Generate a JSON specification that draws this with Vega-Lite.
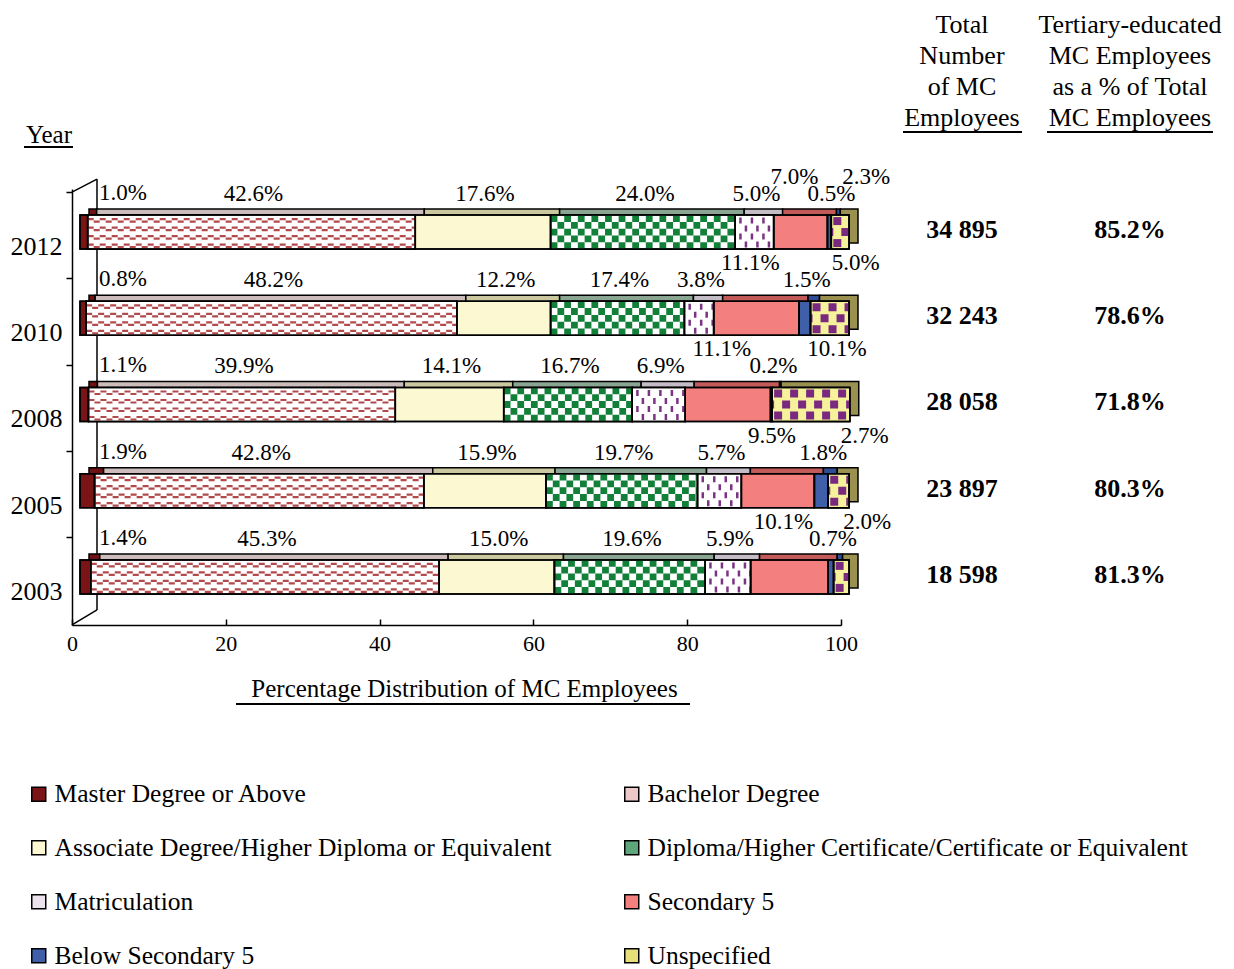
{
"$schema": "https://vega.github.io/schema/vega-lite/v6.json",
"autosize": {"type": "none"},
"width": 769,
"height": 436,
"padding": {"left": 72, "top": 189, "right": 393, "bottom": 344},
"background": "white",
"config": {"font": "Liberation Serif", "view": {"stroke": null}, "text": {"font": "Liberation Serif", "color": "black"}},
"datasets": {
"edu": [
{"year":"2012","k":1,"cat":"Master Degree or Above","pct":1.0},
{"year":"2012","k":2,"cat":"Bachelor Degree","pct":42.6},
{"year":"2012","k":3,"cat":"Associate Degree/Higher Diploma or Equivalent","pct":17.6},
{"year":"2012","k":4,"cat":"Diploma/Higher Certificate/Certificate or Equivalent","pct":24.0},
{"year":"2012","k":5,"cat":"Matriculation","pct":5.0},
{"year":"2012","k":6,"cat":"Secondary 5","pct":7.0},
{"year":"2012","k":7,"cat":"Below Secondary 5","pct":0.5},
{"year":"2012","k":8,"cat":"Unspecified","pct":2.3},
{"year":"2010","k":1,"cat":"Master Degree or Above","pct":0.8},
{"year":"2010","k":2,"cat":"Bachelor Degree","pct":48.2},
{"year":"2010","k":3,"cat":"Associate Degree/Higher Diploma or Equivalent","pct":12.2},
{"year":"2010","k":4,"cat":"Diploma/Higher Certificate/Certificate or Equivalent","pct":17.4},
{"year":"2010","k":5,"cat":"Matriculation","pct":3.8},
{"year":"2010","k":6,"cat":"Secondary 5","pct":11.1},
{"year":"2010","k":7,"cat":"Below Secondary 5","pct":1.5},
{"year":"2010","k":8,"cat":"Unspecified","pct":5.0},
{"year":"2008","k":1,"cat":"Master Degree or Above","pct":1.1},
{"year":"2008","k":2,"cat":"Bachelor Degree","pct":39.9},
{"year":"2008","k":3,"cat":"Associate Degree/Higher Diploma or Equivalent","pct":14.1},
{"year":"2008","k":4,"cat":"Diploma/Higher Certificate/Certificate or Equivalent","pct":16.7},
{"year":"2008","k":5,"cat":"Matriculation","pct":6.9},
{"year":"2008","k":6,"cat":"Secondary 5","pct":11.1},
{"year":"2008","k":7,"cat":"Below Secondary 5","pct":0.2},
{"year":"2008","k":8,"cat":"Unspecified","pct":10.1},
{"year":"2005","k":1,"cat":"Master Degree or Above","pct":1.9},
{"year":"2005","k":2,"cat":"Bachelor Degree","pct":42.8},
{"year":"2005","k":3,"cat":"Associate Degree/Higher Diploma or Equivalent","pct":15.9},
{"year":"2005","k":4,"cat":"Diploma/Higher Certificate/Certificate or Equivalent","pct":19.7},
{"year":"2005","k":5,"cat":"Matriculation","pct":5.7},
{"year":"2005","k":6,"cat":"Secondary 5","pct":9.5},
{"year":"2005","k":7,"cat":"Below Secondary 5","pct":1.8},
{"year":"2005","k":8,"cat":"Unspecified","pct":2.7},
{"year":"2003","k":1,"cat":"Master Degree or Above","pct":1.4},
{"year":"2003","k":2,"cat":"Bachelor Degree","pct":45.3},
{"year":"2003","k":3,"cat":"Associate Degree/Higher Diploma or Equivalent","pct":15.0},
{"year":"2003","k":4,"cat":"Diploma/Higher Certificate/Certificate or Equivalent","pct":19.6},
{"year":"2003","k":5,"cat":"Matriculation","pct":5.9},
{"year":"2003","k":6,"cat":"Secondary 5","pct":10.1},
{"year":"2003","k":7,"cat":"Below Secondary 5","pct":0.7},
{"year":"2003","k":8,"cat":"Unspecified","pct":2.0}
],
"summary": [
{"year":"2012","total":34895,"tert":85.2},
{"year":"2010","total":32243,"tert":78.6},
{"year":"2008","total":28058,"tert":71.8},
{"year":"2005","total":23897,"tert":80.3},
{"year":"2003","total":18598,"tert":81.3}
]
},
"layer": [
{
"data": {"values": [{}]},
"layer": [
{"mark": {"type": "text", "font": "Liberation Serif", "fontSize": 26, "align": "center", "baseline": "middle", "lineHeight": 31, "dy": -207, "color": "black", "text": ["Total", "Number", "of MC", "Employees"]},
 "encoding": {
  "x": {"datum": 115.73, "type": "quantitative", "scale": {"domain": [0, 100], "nice": false, "zero": false}},
  "y": {"datum": "2012", "type": "nominal", "scale": {"domain": ["2012","2010","2008","2005","2003"], "paddingInner": 0.6056, "paddingOuter": 0.3318, "align": 0.456}}
 }},
{"mark": {"type": "text", "font": "Liberation Serif", "fontSize": 26, "align": "center", "baseline": "middle", "lineHeight": 31, "dy": -207, "color": "black", "text": ["Tertiary-educated", "MC Employees", "as a % of Total", "MC Employees"]},
 "encoding": {
  "x": {"datum": 137.58, "type": "quantitative", "scale": {"domain": [0, 100], "nice": false, "zero": false}},
  "y": {"datum": "2012", "type": "nominal", "scale": {"domain": ["2012","2010","2008","2005","2003"], "paddingInner": 0.6056, "paddingOuter": 0.3318, "align": 0.456}}
 }},
{"mark": {"type": "text", "font": "Liberation Serif", "fontSize": 25, "align": "center", "baseline": "middle", "dy": -97, "color": "black", "text": "Year"},
 "encoding": {
  "x": {"datum": -2.99, "type": "quantitative", "scale": {"domain": [0, 100], "nice": false, "zero": false}},
  "y": {"datum": "2012", "type": "nominal", "scale": {"domain": ["2012","2010","2008","2005","2003"], "paddingInner": 0.6056, "paddingOuter": 0.3318, "align": 0.456}}
 }},
{"mark": {"type": "rule", "color": "black", "strokeWidth": 2, "yOffset": -85},
 "encoding": {
  "x": {"datum": -6.24, "type": "quantitative", "scale": {"domain": [0, 100], "nice": false, "zero": false}},
  "x2": {"datum": 0.13},
  "y": {"datum": "2012", "type": "nominal", "scale": {"domain": ["2012","2010","2008","2005","2003"], "paddingInner": 0.6056, "paddingOuter": 0.3318, "align": 0.456}}
 }},
{"mark": {"type": "rule", "color": "black", "strokeWidth": 2, "yOffset": -100},
 "encoding": {
  "x": {"datum": 108.06, "type": "quantitative", "scale": {"domain": [0, 100], "nice": false, "zero": false}},
  "x2": {"datum": 123.54},
  "y": {"datum": "2012", "type": "nominal", "scale": {"domain": ["2012","2010","2008","2005","2003"], "paddingInner": 0.6056, "paddingOuter": 0.3318, "align": 0.456}}
 }},
{"mark": {"type": "rule", "color": "black", "strokeWidth": 2, "yOffset": -100},
 "encoding": {
  "x": {"datum": 126.79, "type": "quantitative", "scale": {"domain": [0, 100], "nice": false, "zero": false}},
  "x2": {"datum": 148.37},
  "y": {"datum": "2012", "type": "nominal", "scale": {"domain": ["2012","2010","2008","2005","2003"], "paddingInner": 0.6056, "paddingOuter": 0.3318, "align": 0.456}}
 }},
{"mark": {"type": "rule", "color": "black", "strokeWidth": 2, "yOffset": 127},
 "encoding": {
  "x": {"datum": 21.33, "type": "quantitative", "scale": {"domain": [0, 100], "nice": false, "zero": false}},
  "x2": {"datum": 80.36},
  "y": {"datum": "2003", "type": "nominal", "scale": {"domain": ["2012","2010","2008","2005","2003"], "paddingInner": 0.6056, "paddingOuter": 0.3318, "align": 0.456}}
 }},
{"mark": {"type": "rule", "color": "black", "strokeWidth": 1.5, "yOffset": -53, "y2Offset": 33},
 "encoding": {
  "x": {"datum": 3.25, "type": "quantitative", "scale": {"domain": [0, 100], "nice": false, "zero": false}},
  "y": {"datum": "2012", "type": "nominal", "scale": {"domain": ["2012","2010","2008","2005","2003"], "paddingInner": 0.6056, "paddingOuter": 0.3318, "align": 0.456}},
  "y2": {"datum": "2003"}
 }},
{"mark": {"type": "rule", "color": "black", "strokeWidth": 1.5, "yOffset": -40, "y2Offset": -53},
 "encoding": {
  "x": {"datum": 0, "type": "quantitative", "scale": {"domain": [0, 100], "nice": false, "zero": false}},
  "x2": {"datum": 3.25},
  "y": {"datum": "2012", "type": "nominal", "scale": {"domain": ["2012","2010","2008","2005","2003"], "paddingInner": 0.6056, "paddingOuter": 0.3318, "align": 0.456}},
  "y2": {"datum": "2012"}
 }},
{"mark": {"type": "rule", "color": "black", "strokeWidth": 1.5, "yOffset": 48, "y2Offset": 33},
 "encoding": {
  "x": {"datum": 0, "type": "quantitative", "scale": {"domain": [0, 100], "nice": false, "zero": false}},
  "x2": {"datum": 3.25},
  "y": {"datum": "2003", "type": "nominal", "scale": {"domain": ["2012","2010","2008","2005","2003"], "paddingInner": 0.6056, "paddingOuter": 0.3318, "align": 0.456}},
  "y2": {"datum": "2003"}
 }}
]
},
{
"data": {"name": "edu"},
"transform": [
{"stack": "pct", "groupby": ["year"], "sort": [{"field": "k", "order": "ascending"}], "as": ["x0", "x1"], "offset": "zero"},
{"calculate": "(datum.x0+datum.x1)/2", "as": "xm"},
{"calculate": "format(datum.pct,'.1f')+'%'", "as": "lab"}
],
"layer": [
{"mark": {"type": "bar", "stroke": "black", "strokeWidth": 1.5, "xOffset": 17, "x2Offset": 17, "yOffset": -6, "y2Offset": -6},
 "encoding": {
  "x": {"field": "x0", "type": "quantitative", "scale": {"domain": [0, 100], "nice": false, "zero": false}},
  "x2": {"field": "x1"},
  "y": {"field": "year", "type": "nominal", "scale": {"domain": ["2012","2010","2008","2005","2003"], "paddingInner": 0.6056, "paddingOuter": 0.3318, "align": 0.456}},
  "fill": {"field": "k", "type": "nominal", "legend": null, "scale": {"domain": [1,2,3,4,5,6,7,8], "range": ["#6e1214","#cdbcbc","#cbc79f","#8aa592","#c4bcc6","#c25a5a","#2f4c94","#9a9150"]}}
 }},
{"mark": {"type": "bar", "stroke": "black", "strokeWidth": 1.5, "xOffset": 8, "x2Offset": 8},
 "encoding": {
  "x": {"field": "x0", "type": "quantitative", "scale": {"domain": [0, 100], "nice": false, "zero": false},
   "axis": {"values": [0,20,40,60,80,100], "title": "Percentage Distribution of MC Employees", "titleFont": "Liberation Serif", "titleFontSize": 25, "titleFontWeight": "normal", "titleColor": "black", "titlePadding": 22, "titleX": 392, "labelFont": "Liberation Serif", "labelFontSize": 22, "labelColor": "black", "labelFlush": false, "grid": false, "domainColor": "black", "domainWidth": 1.5, "tickColor": "black", "tickWidth": 1.5, "tickSize": -6, "labelPadding": 14}},
  "x2": {"field": "x1"},
  "y": {"field": "year", "type": "nominal", "scale": {"domain": ["2012","2010","2008","2005","2003"], "paddingInner": 0.6056, "paddingOuter": 0.3318, "align": 0.456},
   "axis": {"title": null, "labelFont": "Liberation Serif", "labelFontSize": 26, "labelColor": "black", "domainColor": "black", "domainWidth": 1.5, "tickColor": "black", "tickWidth": 1.5, "tickSize": 6, "labelPadding": 4, "bandPosition": -0.66, "labelOffset": 15}},
  "color": {"field": "cat", "type": "nominal",
   "scale": {"domain": ["Master Degree or Above","Associate Degree/Higher Diploma or Equivalent","Matriculation","Below Secondary 5","Bachelor Degree","Diploma/Higher Certificate/Certificate or Equivalent","Secondary 5","Unspecified"], "range": ["#7b1416","#fcf8d2","#ece2ee","#3f5fa8","#ecc8c8","#5ea77a","#f47f7f","#e6df7a"]},
   "legend": {"title": null, "orient": "none", "legendX": -46, "legendY": 592, "columns": 2, "columnPadding": 67, "rowPadding": 27, "padding": 0, "symbolType": "square", "symbolSize": 196, "symbolStrokeColor": "black", "symbolStrokeWidth": 1.5, "labelFont": "Liberation Serif", "labelFontSize": 25.5, "labelColor": "black", "labelLimit": 1000, "labelOffset": 3}}
 }},
{"transform": [{"filter": "datum.k==2 || datum.k==4 || datum.k==5"}],
 "mark": {"type": "bar", "fill": "white", "stroke": "black", "strokeWidth": 1.5, "xOffset": 8, "x2Offset": 8},
 "encoding": {
  "x": {"field": "x0", "type": "quantitative", "scale": {"domain": [0, 100], "nice": false, "zero": false}},
  "x2": {"field": "x1"},
  "y": {"field": "year", "type": "nominal", "scale": {"domain": ["2012","2010","2008","2005","2003"], "paddingInner": 0.6056, "paddingOuter": 0.3318, "align": 0.456}}
 }},
{"transform": [{"filter": "datum.k==8"}],
 "mark": {"type": "bar", "fill": "#f6f29c", "stroke": "black", "strokeWidth": 1.5, "xOffset": 8, "x2Offset": 8},
 "encoding": {
  "x": {"field": "x0", "type": "quantitative", "scale": {"domain": [0, 100], "nice": false, "zero": false}},
  "x2": {"field": "x1"},
  "y": {"field": "year", "type": "nominal", "scale": {"domain": ["2012","2010","2008","2005","2003"], "paddingInner": 0.6056, "paddingOuter": 0.3318, "align": 0.456}}
 }},
{"transform": [{"filter": "datum.k==2"}],
 "encoding": {
  "x": {"field": "x0", "type": "quantitative", "scale": {"domain": [0, 100], "nice": false, "zero": false}},
  "x2": {"field": "x1"},
  "y": {"field": "year", "type": "nominal", "scale": {"domain": ["2012","2010","2008","2005","2003"], "paddingInner": 0.6056, "paddingOuter": 0.3318, "align": 0.456}}
 },
 "layer": [
  {"mark": {"type": "rule", "color": "#b24a4c", "strokeWidth": 2.2, "strokeDash": [6, 6], "strokeDashOffset": 0, "yOffset": -13, "xOffset": 8, "x2Offset": 8}},
  {"mark": {"type": "rule", "color": "#b24a4c", "strokeWidth": 2.2, "strokeDash": [6, 6], "strokeDashOffset": 6, "yOffset": -10.5, "xOffset": 8, "x2Offset": 8}},
  {"mark": {"type": "rule", "color": "#b24a4c", "strokeWidth": 2.2, "strokeDash": [6, 6], "strokeDashOffset": 0, "yOffset": -4.5, "xOffset": 8, "x2Offset": 8}},
  {"mark": {"type": "rule", "color": "#b24a4c", "strokeWidth": 2.2, "strokeDash": [6, 6], "strokeDashOffset": 6, "yOffset": -2, "xOffset": 8, "x2Offset": 8}},
  {"mark": {"type": "rule", "color": "#b24a4c", "strokeWidth": 2.2, "strokeDash": [6, 6], "strokeDashOffset": 0, "yOffset": 4, "xOffset": 8, "x2Offset": 8}},
  {"mark": {"type": "rule", "color": "#b24a4c", "strokeWidth": 2.2, "strokeDash": [6, 6], "strokeDashOffset": 6, "yOffset": 6.5, "xOffset": 8, "x2Offset": 8}},
  {"mark": {"type": "rule", "color": "#b24a4c", "strokeWidth": 2.2, "strokeDash": [6, 6], "strokeDashOffset": 0, "yOffset": 12.5, "xOffset": 8, "x2Offset": 8}},
  {"mark": {"type": "rule", "color": "#b24a4c", "strokeWidth": 2.2, "strokeDash": [6, 6], "strokeDashOffset": 6, "yOffset": 15, "xOffset": 8, "x2Offset": 8}}
 ]},
{"transform": [{"filter": "datum.k==4"}],
 "encoding": {
  "x": {"field": "x0", "type": "quantitative", "scale": {"domain": [0, 100], "nice": false, "zero": false}},
  "x2": {"field": "x1"},
  "y": {"field": "year", "type": "nominal", "scale": {"domain": ["2012","2010","2008","2005","2003"], "paddingInner": 0.6056, "paddingOuter": 0.3318, "align": 0.456}}
 },
 "layer": [
  {"mark": {"type": "rule", "color": "#13803a", "strokeWidth": 6.8, "strokeDash": [6.8, 6.8], "strokeDashOffset": 0, "yOffset": -13.6, "xOffset": 8, "x2Offset": 8}},
  {"mark": {"type": "rule", "color": "#13803a", "strokeWidth": 6.8, "strokeDash": [6.8, 6.8], "strokeDashOffset": 6.8, "yOffset": -6.8, "xOffset": 8, "x2Offset": 8}},
  {"mark": {"type": "rule", "color": "#13803a", "strokeWidth": 6.8, "strokeDash": [6.8, 6.8], "strokeDashOffset": 0, "yOffset": 0, "xOffset": 8, "x2Offset": 8}},
  {"mark": {"type": "rule", "color": "#13803a", "strokeWidth": 6.8, "strokeDash": [6.8, 6.8], "strokeDashOffset": 6.8, "yOffset": 6.8, "xOffset": 8, "x2Offset": 8}},
  {"mark": {"type": "rule", "color": "#13803a", "strokeWidth": 6.8, "strokeDash": [6.8, 6.8], "strokeDashOffset": 0, "yOffset": 13.6, "xOffset": 8, "x2Offset": 8}}
 ]},
{"transform": [{"filter": "datum.k==5"}],
 "encoding": {
  "x": {"field": "x0", "type": "quantitative", "scale": {"domain": [0, 100], "nice": false, "zero": false}},
  "x2": {"field": "x1"},
  "y": {"field": "year", "type": "nominal", "scale": {"domain": ["2012","2010","2008","2005","2003"], "paddingInner": 0.6056, "paddingOuter": 0.3318, "align": 0.456}}
 },
 "layer": [
  {"mark": {"type": "rule", "color": "#7b3483", "strokeWidth": 6, "strokeDash": [2.5, 9], "strokeDashOffset": -4, "yOffset": -11.5, "xOffset": 8, "x2Offset": 8}},
  {"mark": {"type": "rule", "color": "#7b3483", "strokeWidth": 6, "strokeDash": [2.5, 9], "strokeDashOffset": -9.5, "yOffset": -3.5, "xOffset": 8, "x2Offset": 8}},
  {"mark": {"type": "rule", "color": "#7b3483", "strokeWidth": 6, "strokeDash": [2.5, 9], "strokeDashOffset": -4, "yOffset": 4.5, "xOffset": 8, "x2Offset": 8}},
  {"mark": {"type": "rule", "color": "#7b3483", "strokeWidth": 6, "strokeDash": [2.5, 9], "strokeDashOffset": -9.5, "yOffset": 12.5, "xOffset": 8, "x2Offset": 8}}
 ]},
{"transform": [{"filter": "datum.k==8"}],
 "encoding": {
  "x": {"field": "x0", "type": "quantitative", "scale": {"domain": [0, 100], "nice": false, "zero": false}},
  "x2": {"field": "x1"},
  "y": {"field": "year", "type": "nominal", "scale": {"domain": ["2012","2010","2008","2005","2003"], "paddingInner": 0.6056, "paddingOuter": 0.3318, "align": 0.456}}
 },
 "layer": [
  {"mark": {"type": "rule", "color": "#7a2a7e", "strokeWidth": 8, "strokeDash": [8, 8], "strokeDashOffset": -2, "yOffset": -11, "xOffset": 8, "x2Offset": 8}},
  {"mark": {"type": "rule", "color": "#7a2a7e", "strokeWidth": 8, "strokeDash": [8, 8], "strokeDashOffset": 6, "yOffset": 0, "xOffset": 8, "x2Offset": 8}},
  {"mark": {"type": "rule", "color": "#7a2a7e", "strokeWidth": 8, "strokeDash": [8, 8], "strokeDashOffset": -2, "yOffset": 11, "xOffset": 8, "x2Offset": 8}}
 ]},
{"mark": {"type": "bar", "filled": false, "stroke": "black", "strokeWidth": 1.5, "xOffset": 8, "x2Offset": 8},
 "encoding": {
  "x": {"field": "x0", "type": "quantitative", "scale": {"domain": [0, 100], "nice": false, "zero": false}},
  "x2": {"field": "x1"},
  "y": {"field": "year", "type": "nominal", "scale": {"domain": ["2012","2010","2008","2005","2003"], "paddingInner": 0.6056, "paddingOuter": 0.3318, "align": 0.456}}
 }},
{"transform": [{"filter": "datum.k==1"}],
 "mark": {"type": "text", "font": "Liberation Serif", "fontSize": 23, "align": "left", "baseline": "middle", "dx": 27, "dy": -39, "color": "black"},
 "encoding": {
  "x": {"field": "x0", "type": "quantitative", "scale": {"domain": [0, 100], "nice": false, "zero": false}},
  "y": {"field": "year", "type": "nominal", "scale": {"domain": ["2012","2010","2008","2005","2003"], "paddingInner": 0.6056, "paddingOuter": 0.3318, "align": 0.456}},
  "text": {"field": "lab"}
 }},
{"transform": [{"filter": "datum.k>=2 && datum.k<=5 || datum.k==7"}],
 "mark": {"type": "text", "font": "Liberation Serif", "fontSize": 23, "align": "center", "baseline": "middle", "dx": 10, "dy": -38, "color": "black"},
 "encoding": {
  "x": {"field": "xm", "type": "quantitative", "scale": {"domain": [0, 100], "nice": false, "zero": false}},
  "y": {"field": "year", "type": "nominal", "scale": {"domain": ["2012","2010","2008","2005","2003"], "paddingInner": 0.6056, "paddingOuter": 0.3318, "align": 0.456}},
  "text": {"field": "lab"}
 }},
{"transform": [{"filter": "datum.k==6"}],
 "mark": {"type": "text", "font": "Liberation Serif", "fontSize": 23, "align": "center", "baseline": "middle", "dx": 2, "dy": -55, "color": "black"},
 "encoding": {
  "x": {"field": "xm", "type": "quantitative", "scale": {"domain": [0, 100], "nice": false, "zero": false}},
  "y": {"field": "year", "type": "nominal", "scale": {"domain": ["2012","2010","2008","2005","2003"], "paddingInner": 0.6056, "paddingOuter": 0.3318, "align": 0.456}},
  "text": {"field": "lab"}
 }},
{"transform": [{"filter": "datum.k==8"}],
 "mark": {"type": "text", "font": "Liberation Serif", "fontSize": 23, "align": "center", "baseline": "middle", "dx": 34, "dy": -55, "color": "black"},
 "encoding": {
  "x": {"field": "xm", "type": "quantitative", "scale": {"domain": [0, 100], "nice": false, "zero": false}},
  "y": {"field": "year", "type": "nominal", "scale": {"domain": ["2012","2010","2008","2005","2003"], "paddingInner": 0.6056, "paddingOuter": 0.3318, "align": 0.456}},
  "text": {"field": "lab"}
 }}
]
},
{
"data": {"name": "summary"},
"transform": [
{"calculate": "replace(format(datum.total, ','), ',', ' ')", "as": "totLab"},
{"calculate": "format(datum.tert,'.1f')+'%'", "as": "tertLab"}
],
"layer": [
{"mark": {"type": "text", "font": "Liberation Serif", "fontSize": 26, "fontWeight": "bold", "align": "center", "baseline": "middle", "dy": -2, "color": "black"},
 "encoding": {
  "x": {"datum": 115.73, "type": "quantitative", "scale": {"domain": [0, 100], "nice": false, "zero": false}},
  "y": {"field": "year", "type": "nominal", "scale": {"domain": ["2012","2010","2008","2005","2003"], "paddingInner": 0.6056, "paddingOuter": 0.3318, "align": 0.456}},
  "text": {"field": "totLab"}
 }},
{"mark": {"type": "text", "font": "Liberation Serif", "fontSize": 26, "fontWeight": "bold", "align": "center", "baseline": "middle", "dy": -2, "color": "black"},
 "encoding": {
  "x": {"datum": 137.58, "type": "quantitative", "scale": {"domain": [0, 100], "nice": false, "zero": false}},
  "y": {"field": "year", "type": "nominal", "scale": {"domain": ["2012","2010","2008","2005","2003"], "paddingInner": 0.6056, "paddingOuter": 0.3318, "align": 0.456}},
  "text": {"field": "tertLab"}
 }}
]
}
]
}
